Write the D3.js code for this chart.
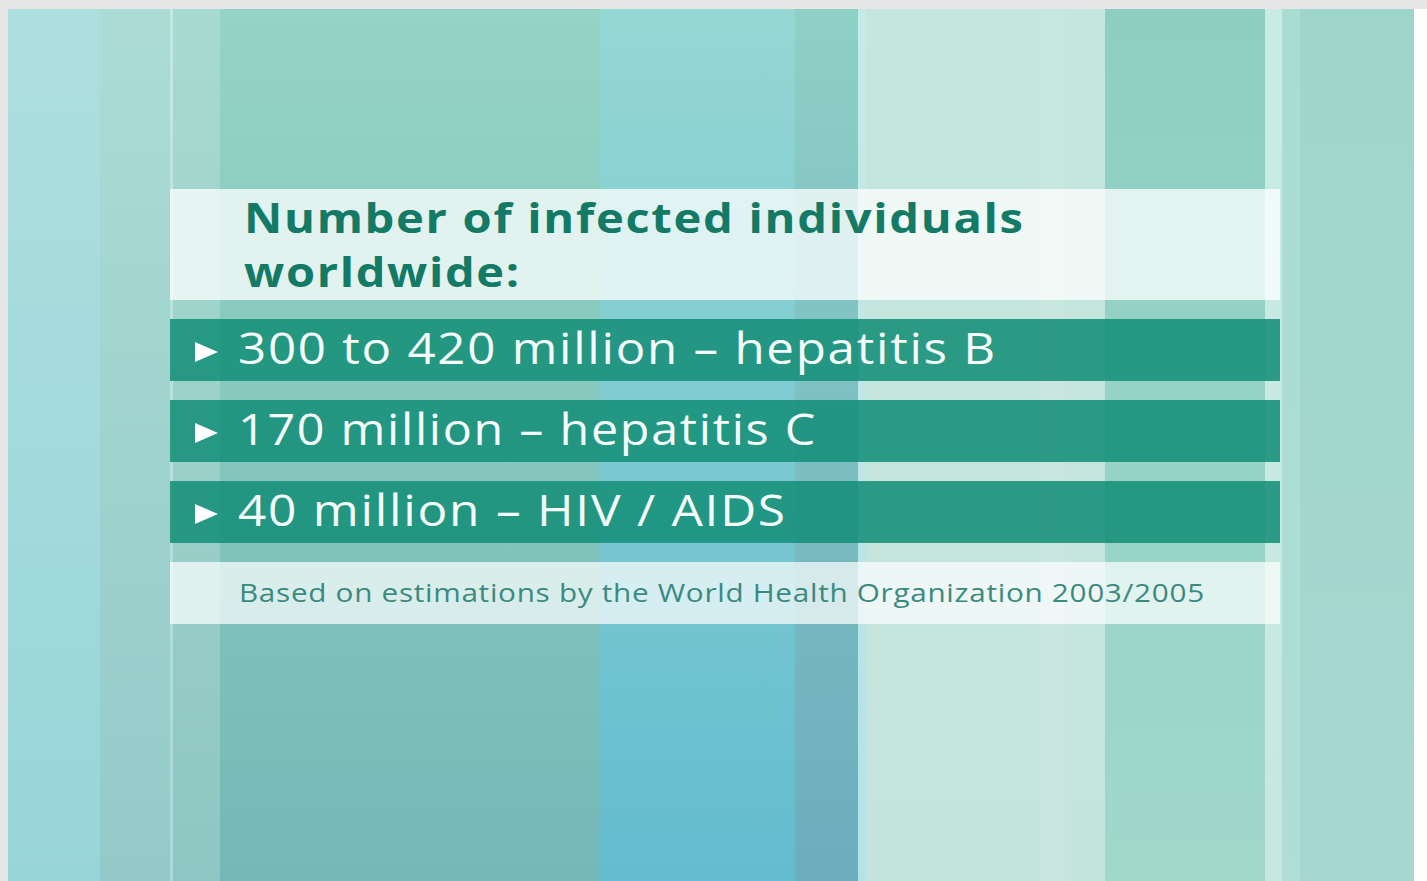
<!DOCTYPE html>
<html>
<head>
<meta charset="utf-8">
<script src="https://cdn.jsdelivr.net/npm/d3@7"></script>
<style>
  html, body { margin: 0; padding: 0; background: #e6e6e6; overflow: hidden; }
  svg { display: block; }
</style>
</head>
<body>
<div id="chart"></div>
<script>
// text content
const titleLines = ["Number of infected individuals", "worldwide:"];
const counts = ["300 to 420 million", "170 million", "40 million"];
const diseases = ["hepatitis B", "hepatitis C", "HIV / AIDS"];
const footnote = "Based on estimations by the World Health Organization 2003/2005";

// background stripes: [x0, x1, top colour, bottom colour]
const stripeX0 = [8, 100, 170, 173, 220, 600, 795, 858, 866, 1040, 1065, 1105, 1265, 1282, 1300, 1414];
const stripeX1 = [100, 170, 173, 220, 600, 795, 858, 866, 1040, 1065, 1105, 1265, 1282, 1300, 1414, 1427];
const stripeTop = ["#aedfdf", "#acdcd5", "#c2e8e2", "#a8dbcf", "#95d4c4", "#95d7d3", "#8ecfc6", "#c4ebe8", "#c4e6dd", "#c8e8df", "#c4e6dd", "#8ccfc1", "#c8ebe3", "#a9ddd1", "#9fd6ca", "#ffffff"];
const stripeBottom = ["#98d5d9", "#93cac9", "#a9d9d8", "#8ec6c3", "#74b9b7", "#64bccf", "#6badbd", "#b4e2e8", "#c5e4dd", "#c9e5df", "#c5e4dd", "#a0d8ca", "#c6e8e0", "#b0ddd4", "#a6d8d1", "#ffffff"];

const W = 1427, H = 881;

const svg = d3.select("#chart")
    .append("svg")
    .attr("width", W)
    .attr("height", H);

const defs = svg.append("defs");

const stripes = stripeX0.map((x0, i) => ({x0, x1: stripeX1[i], top: stripeTop[i], bottom: stripeBottom[i]}));

// one vertical gradient per stripe
stripes.forEach((s, i) => {
  const g = defs.append("linearGradient")
      .attr("id", "st" + i)
      .attr("x1", 0).attr("y1", 0).attr("x2", 0).attr("y2", 1);
  g.append("stop").attr("offset", "0%").attr("stop-color", s.top);
  g.append("stop").attr("offset", "100%").attr("stop-color", s.bottom);
});

const x = d3.scaleLinear().domain([0, W]).range([0, W]);

svg.append("g")
  .selectAll("rect")
  .data(stripes)
  .join("rect")
    .attr("x", d => x(d.x0))
    .attr("y", 9)
    .attr("width", d => x(d.x1) - x(d.x0))
    .attr("height", H - 9)
    .attr("fill", (d, i) => `url(#st${i})`);

// panel geometry
const panelX = 170, panelW = 1110;

// title box
svg.append("rect")
    .attr("x", panelX).attr("y", 189)
    .attr("width", panelW).attr("height", 111)
    .attr("fill", "#ffffff").attr("fill-opacity", 0.74);

// stretch text horizontally so it ends at xEnd (the original face is wider)
function fit(sel, xEnd) {
  const x0 = +sel.attr("x");
  const w = sel.node().getComputedTextLength();
  const sx = (xEnd - x0) / w;
  sel.attr("transform", `translate(${x0},0) scale(${sx},1) translate(${-x0},0)`);
}

const titleEnds = [1025, 521];
titleLines.forEach((t, i) => {
  const s = svg.append("text")
      .attr("x", 244)
      .attr("y", 233 + i * 54)
      .attr("fill", "#137a66")
      .style("font-family", "'Open Sans', sans-serif")
      .style("font-weight", 700)
      .style("font-size", "42px")
      .style("letter-spacing", "1.5px")
      .text(t);
  fit(s, titleEnds[i]);
});

// bars
const rows = counts.map((c, i) => ({label: c + " \u2013 " + diseases[i]}));
const y = d3.scaleBand()
    .domain(d3.range(rows.length))
    .range([319, 543])
    .paddingInner(0.235);

const bar = svg.append("g")
  .selectAll("g")
  .data(rows)
  .join("g")
    .attr("transform", (d, i) => `translate(0, ${y(i)})`);

bar.append("rect")
    .attr("x", panelX)
    .attr("width", panelW)
    .attr("height", y.bandwidth())
    .attr("fill", "#168f79")
    .attr("fill-opacity", 0.88);

bar.append("path")
    .attr("d", d => {
      const cy = y.bandwidth() / 2 + 2;
      return `M195,${cy - 10} L218,${cy} L195,${cy + 10} Z`;
    })
    .attr("fill", "#ffffff");

const rowEnds = [997, 817, 787];
bar.append("text")
    .attr("x", 238)
    .attr("y", 45)
    .attr("fill", "#f4fbf9")
    .style("font-family", "'Open Sans', sans-serif")
    .style("font-size", "43px")
    .style("letter-spacing", "1.5px")
    .text(d => d.label)
    .each(function(d, i) { fit(d3.select(this), rowEnds[i]); });

// footnote box
svg.append("rect")
    .attr("x", panelX).attr("y", 562)
    .attr("width", panelW).attr("height", 62)
    .attr("fill", "#ffffff").attr("fill-opacity", 0.7);

const fn = svg.append("text")
    .attr("x", 239)
    .attr("y", 602)
    .attr("fill", "#3b8a80")
    .style("font-family", "'Open Sans', sans-serif")
    .style("font-size", "25px")
    .style("letter-spacing", "0.6px")
    .text(footnote);
fit(fn, 1205);
</script>
</body>
</html>
